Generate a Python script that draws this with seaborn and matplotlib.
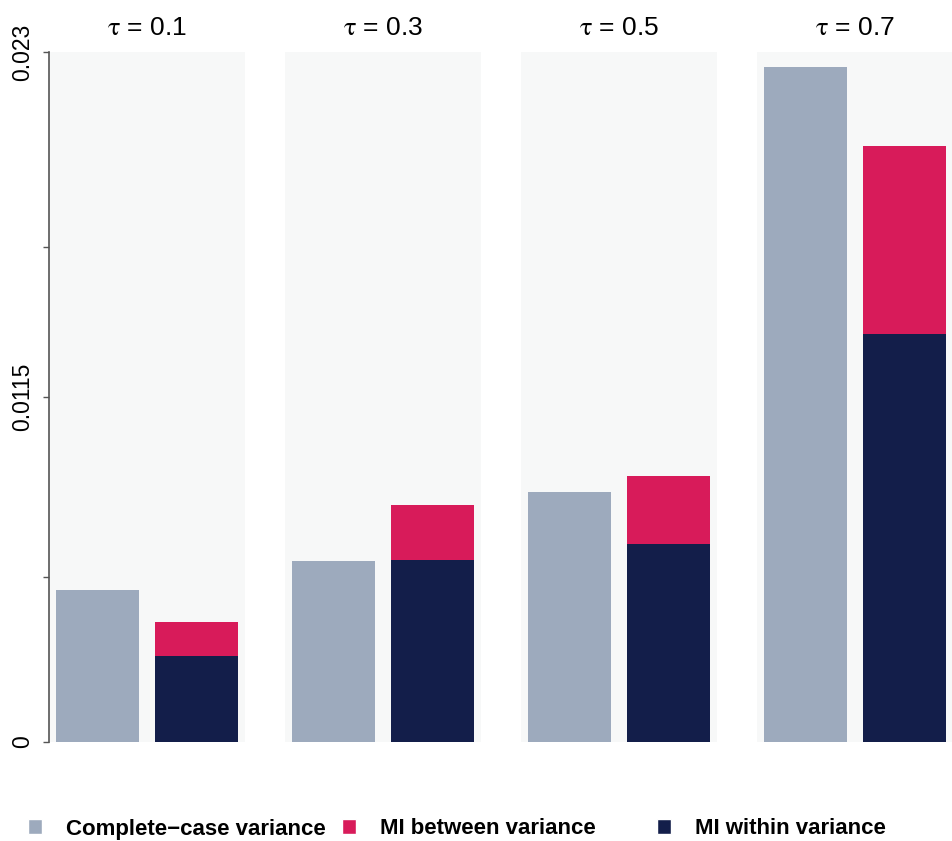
import matplotlib
matplotlib.use("Agg")
import matplotlib.pyplot as plt
import numpy as np
import pandas as pd
import seaborn as sns
from matplotlib.patches import Patch

# Variance components by quantile level
taus = ["0.1", "0.3", "0.5", "0.7"]
cc_var = [0.00507, 0.00603, 0.00833, 0.0225]
mi_within = [0.00287, 0.00607, 0.0066, 0.0136]
mi_between = [0.00113, 0.00183, 0.00227, 0.00627]

bar_order = ["Complete-case", "MI"]
y_ticks = [0, 0.0055, 0.0115, 0.0165, 0.023]
y_tick_labels = ["0", "", "0.0115", "", "0.023"]
legend_labels = ["Complete\u2212case variance", "MI between variance", "MI within variance"]

col_cc = "#9DAABD"
col_between = "#D81B5A"
col_within = "#131E4A"
panel_bg = "#F7F8F8"
axis_col = "#555555"

sns.set_theme(style="white")
plt.rcParams["font.family"] = ["Liberation Sans", "DejaVu Sans"]
plt.rcParams["mathtext.fontset"] = "stix"
plt.rcParams["text.color"] = "black"
plt.rcParams["ytick.labelcolor"] = "black"

rows = []
for t, cc, w, b in zip(taus, cc_var, mi_within, mi_between):
    rows.append({"tau": t, "bar": "Complete-case", "top": cc, "within": np.nan})
    rows.append({"tau": t, "bar": "MI", "top": w + b, "within": w})
df = pd.DataFrame(rows)

W, H = 952, 841
fig = plt.figure(figsize=(W / 100, H / 100), dpi=100)

panel_left = [49, 285, 521, 757]
panel_w = 196
y_top, y_bottom = 52, 742

for i, t in enumerate(taus):
    ax = fig.add_axes([panel_left[i] / W, (H - y_bottom) / H,
                       panel_w / W, (y_bottom - y_top) / H])
    sub = df[df["tau"] == t]
    # full bar heights: complete-case, and MI total (within + between)
    sns.barplot(data=sub, x="bar", y="top", hue="bar", order=bar_order,
                hue_order=bar_order, palette=[col_cc, col_between],
                width=0.84, errorbar=None, legend=False, ax=ax,
                saturation=1, linewidth=0)
    # within-imputation part drawn over the lower section of the MI bar
    sub_w = sub[sub["bar"] == "MI"]
    sns.barplot(data=sub_w, x="bar", y="within", order=bar_order,
                color=col_within, width=0.84, errorbar=None, ax=ax,
                saturation=1, linewidth=0)
    ax.set_xlim(-0.49, 1.49)
    ax.set_ylim(0, 0.023)
    ax.set_facecolor(panel_bg)
    ax.set_xlabel("")
    ax.set_ylabel("")
    ax.set_xticks([])
    for s in ["top", "right", "bottom", "left"]:
        ax.spines[s].set_visible(False)
    ax.set_title(r"$\mathrm{\tau}$ = " + t, fontsize=19, pad=12, color="black")
    if i == 0:
        ax.spines["left"].set_visible(True)
        ax.spines["left"].set_color(axis_col)
        ax.spines["left"].set_linewidth(1.2)
        ax.set_yticks(y_ticks)
        ax.set_yticklabels(y_tick_labels, rotation=90, va="center", fontsize=16.5)
        ax.tick_params(axis="y", length=4.5, width=1.0, color=axis_col,
                       pad=6, left=True, labelcolor="black")
    else:
        ax.set_yticks([])

# Legend row along the bottom, entries on an even spacing
handles = [Patch(facecolor=col_cc), Patch(facecolor=col_between), Patch(facecolor=col_within)]
legend_x = [28, 342, 657]
for h, lab, x in zip(handles, legend_labels, legend_x):
    leg = fig.legend([h], [lab], loc="center left",
                     bbox_to_anchor=(x / W, 1 - 829 / H),
                     frameon=False, borderpad=0, borderaxespad=0,
                     handlelength=0.64, handleheight=0.64, handletextpad=1.05,
                     prop={"weight": "bold", "size": 16})
    for txt in leg.get_texts():
        txt.set_color("black")

fig.savefig("out.png", dpi=100, facecolor="white")
